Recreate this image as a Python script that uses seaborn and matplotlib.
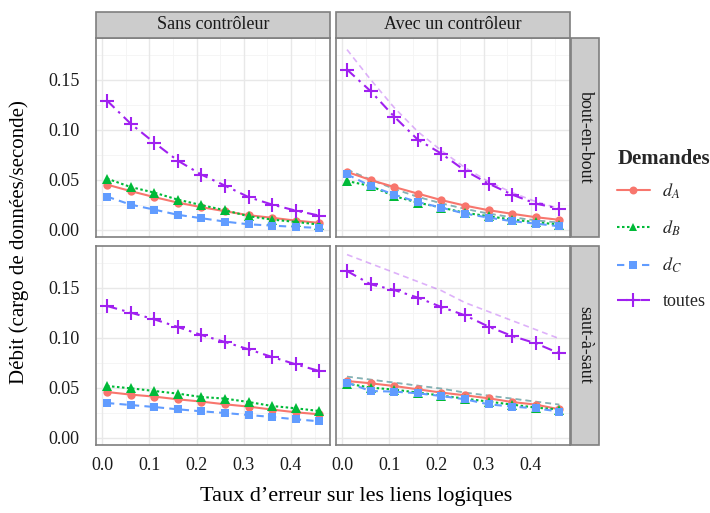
import numpy as np
import pandas as pd
import matplotlib
matplotlib.use("Agg")
import matplotlib.pyplot as plt
from matplotlib.lines import Line2D
from matplotlib.patches import Rectangle
import seaborn as sns

# ---------------- data ----------------
x = [0.01, 0.06, 0.11, 0.16, 0.21, 0.26, 0.31, 0.36, 0.41, 0.46]

sans_bout_A = [0.045, 0.0385, 0.0325, 0.027, 0.0224, 0.0184, 0.0144, 0.0118, 0.009, 0.0067]
sans_bout_B = [0.051, 0.0426, 0.037, 0.030, 0.0245, 0.0194, 0.0134, 0.010, 0.0077, 0.005]
sans_bout_C = [0.033, 0.025, 0.020, 0.0148, 0.0114, 0.008, 0.0053, 0.004, 0.0027, 0.0017]
sans_bout_T = [0.129, 0.106, 0.087, 0.069, 0.055, 0.044, 0.0325, 0.025, 0.019, 0.014]

avec_bout_A = [0.0577, 0.0496, 0.0426, 0.036, 0.0295, 0.024, 0.0194, 0.0158, 0.0124, 0.0098]
avec_bout_B = [0.0486, 0.0436, 0.0335, 0.027, 0.022, 0.0168, 0.0134, 0.010, 0.0074, 0.005]
avec_bout_C = [0.0553, 0.0436, 0.035, 0.0275, 0.022, 0.016, 0.012, 0.0084, 0.006, 0.0033]
avec_bout_T = [0.160, 0.1385, 0.113, 0.090, 0.076, 0.059, 0.046, 0.035, 0.026, 0.021]
theo_bout_ind = [0.060, 0.050, 0.0407, 0.0327, 0.0263, 0.0207, 0.016, 0.0123, 0.0093, 0.007]
theo_bout_T = [0.180, 0.150, 0.122, 0.098, 0.079, 0.062, 0.048, 0.037, 0.028, 0.021]

sans_saut_A = [0.0456, 0.043, 0.041, 0.0383, 0.036, 0.0333, 0.031, 0.028, 0.0253, 0.0233]
sans_saut_B = [0.0516, 0.0493, 0.0466, 0.044, 0.0406, 0.039, 0.0356, 0.0316, 0.0293, 0.0266]
sans_saut_C = [0.0346, 0.0326, 0.0306, 0.0283, 0.0263, 0.0246, 0.0226, 0.0206, 0.0183, 0.0163]
sans_saut_T = [0.1316, 0.125, 0.1183, 0.1106, 0.1026, 0.0956, 0.0883, 0.0806, 0.0733, 0.0666]

avec_saut_A = [0.0566, 0.0543, 0.0516, 0.0483, 0.045, 0.0423, 0.0393, 0.0356, 0.033, 0.0283]
avec_saut_B = [0.054, 0.050, 0.048, 0.045, 0.042, 0.039, 0.036, 0.033, 0.030, 0.028]
avec_saut_C = [0.055, 0.0466, 0.046, 0.0443, 0.0416, 0.0383, 0.0333, 0.031, 0.0293, 0.026]
avec_saut_T = [0.1666, 0.1533, 0.1476, 0.140, 0.1306, 0.1223, 0.111, 0.1016, 0.0943, 0.0843]
theo_saut_ind = [0.061, 0.058, 0.055, 0.052, 0.049, 0.045, 0.042, 0.039, 0.036, 0.033]
theo_saut_T = [0.183, 0.174, 0.165, 0.156, 0.147, 0.135, 0.126, 0.117, 0.108, 0.099]

series = ["d_A", "d_B", "d_C", "toutes"]
labels = [r"$d_A$", r"$d_B$", r"$d_C$", "toutes"]
col_titles = ["Sans contrôleur", "Avec un contrôleur"]
row_titles = ["bout-en-bout", "saut-à-saut"]
xticks = [0.0, 0.1, 0.2, 0.3, 0.4]
xticklabels = ["0.0", "0.1", "0.2", "0.3", "0.4"]
yticks = [0.00, 0.05, 0.10, 0.15]
yticklabels = ["0.00", "0.05", "0.10", "0.15"]

panels = {
    (0, 0): [sans_bout_A, sans_bout_B, sans_bout_C, sans_bout_T],
    (0, 1): [avec_bout_A, avec_bout_B, avec_bout_C, avec_bout_T],
    (1, 0): [sans_saut_A, sans_saut_B, sans_saut_C, sans_saut_T],
    (1, 1): [avec_saut_A, avec_saut_B, avec_saut_C, avec_saut_T],
}
theory = {
    (0, 1): (theo_bout_ind, theo_bout_T),
    (1, 1): (theo_saut_ind, theo_saut_T),
}

# ---------------- style ----------------
sns.set_theme(style="white")
plt.rcParams["font.family"] = ["Liberation Serif", "DejaVu Serif"]
plt.rcParams["mathtext.fontset"] = "stix"

colors = {"d_A": "#F8766D", "d_B": "#00BA38", "d_C": "#619CFF", "toutes": "#A020F0"}
markers = {"d_A": "o", "d_B": "^", "d_C": "s", "toutes": "+"}
msizes = {"d_A": 6, "d_B": 6.5, "d_C": 6, "toutes": 10}
dashes = {"d_A": (None, None), "d_B": (1.2, 1.2), "d_C": (3.5, 2.5), "toutes": (5, 2.5, 1.2, 2.5)}

W, H = 710, 513
fig = plt.figure(figsize=(W / 100, H / 100), dpi=100)

def fx(px):
    return px / W

def fy(py):
    return 1 - py / H

col_x = [(96.4, 329.9), (336.4, 569.9)]
row_y = [(37.5, 237.0), (245.5, 445.0)]
xlim = (-0.0125, 0.4825)
ylim = (-0.0074, 0.1921)

border_col = "#7F7F7F"

axes = {}
for r in range(2):
    for c in range(2):
        x0, x1 = col_x[c]
        y0, y1 = row_y[r]
        ax = fig.add_axes([fx(x0), fy(y1), fx(x1 - x0), (y1 - y0) / H])
        axes[(r, c)] = ax
        ax.set_xlim(*xlim)
        ax.set_ylim(*ylim)
        ax.set_facecolor("white")
        # grid
        for v in np.arange(0.05, 0.5, 0.1):
            ax.axvline(v, color="#F4F4F4", lw=0.6, zorder=0)
        for v in np.arange(0.025, 0.19, 0.05):
            ax.axhline(v, color="#F4F4F4", lw=0.6, zorder=0)
        for v in xticks:
            ax.axvline(v, color="#E8E8E8", lw=1.0, zorder=0)
        for v in yticks:
            ax.axhline(v, color="#E8E8E8", lw=1.0, zorder=0)

        # theory lines
        if (r, c) in theory:
            ind, tot = theory[(r, c)]
            for s in ["d_A", "d_B", "d_C"]:
                sns.lineplot(x=x, y=ind, ax=ax, color=colors[s], alpha=0.4,
                             lw=1.2, legend=False, zorder=1)
                ax.lines[-1].set_dashes((3.5, 2.5))
            sns.lineplot(x=x, y=tot, ax=ax, color=colors["toutes"], alpha=0.35,
                         lw=1.2, legend=False, zorder=1)
            ax.lines[-1].set_dashes((3.5, 2.5))

        # measured series
        for s, vals in zip(series, panels[(r, c)]):
            sns.lineplot(x=x, y=vals, ax=ax, color=colors[s], marker=markers[s],
                         markersize=msizes[s], lw=1.5, legend=False, zorder=3,
                         markeredgewidth=(1.5 if s == "toutes" else 0),
                         markeredgecolor=colors[s])
            if dashes[s][0] is not None:
                ax.lines[-1].set_dashes(dashes[s])

        ax.set_xlabel("")
        ax.set_ylabel("")
        ax.set_xticks(xticks)
        ax.set_yticks(yticks)
        for sp in ax.spines.values():
            sp.set_color(border_col)
            sp.set_linewidth(1.2)
        ax.tick_params(axis="both", length=5, width=1.2, color="#333333",
                       labelsize=13, labelcolor="#1a1a1a", direction="out")
        ax.tick_params(axis="x", pad=4)
        ax.tick_params(axis="y", pad=7)
        if c == 1:
            ax.tick_params(axis="y", labelleft=False, length=0)
        else:
            ax.set_yticklabels(yticklabels)
        if r == 0:
            ax.tick_params(axis="x", labelbottom=False, length=0)
        else:
            ax.set_xticklabels(xticklabels)

# strips (top)
for c in range(2):
    x0, x1 = col_x[c]
    rect = Rectangle((fx(x0), fy(37.5)), fx(x1 - x0), 25.5 / H, transform=fig.transFigure,
                     facecolor="#CCCCCC", edgecolor=border_col, lw=1.2, zorder=0)
    fig.patches.append(rect)
    fig.text(fx((x0 + x1) / 2), fy(24.5), col_titles[c], ha="center", va="center",
             fontsize=13, color="#1a1a1a")
# strips (right)
for r in range(2):
    y0, y1 = row_y[r]
    rect = Rectangle((fx(571), fy(y1)), fx(28), (y1 - y0) / H, transform=fig.transFigure,
                     facecolor="#CCCCCC", edgecolor=border_col, lw=1.2, zorder=0)
    fig.patches.append(rect)
    fig.text(fx(585), fy((y0 + y1) / 2), row_titles[r], ha="center", va="center",
             rotation=-90, fontsize=13, color="#1a1a1a")

# axis titles
fig.text(fx(356), fy(496), "Taux d’erreur sur les liens logiques", ha="center",
         va="center", fontsize=16, color="black")
fig.text(fx(19), fy(242), "Débit (cargo de données/seconde)", ha="center",
         va="center", rotation=90, fontsize=15, color="black")

# legend
handles = []
for s in series:
    h = Line2D([0], [0], color=colors[s], marker=markers[s], markersize=msizes[s] * 0.95,
               lw=1.5, markeredgewidth=(1.5 if s == "toutes" else 0),
               markeredgecolor=colors[s])
    if dashes[s][0] is not None:
        h.set_dashes(dashes[s])
    handles.append(h)
leg = fig.legend(handles, labels, loc="upper left", bbox_to_anchor=(fx(610), fy(142)),
                 frameon=False, title="Demandes", fontsize=13, handlelength=1.8,
                 labelspacing=0.98, handletextpad=0.7, alignment="left",
                 borderaxespad=0)
leg.get_title().set_fontweight("bold")
leg.get_title().set_fontsize(15)
leg._legend_box.sep = 9

fig.savefig("out.png", dpi=100, facecolor="white")
